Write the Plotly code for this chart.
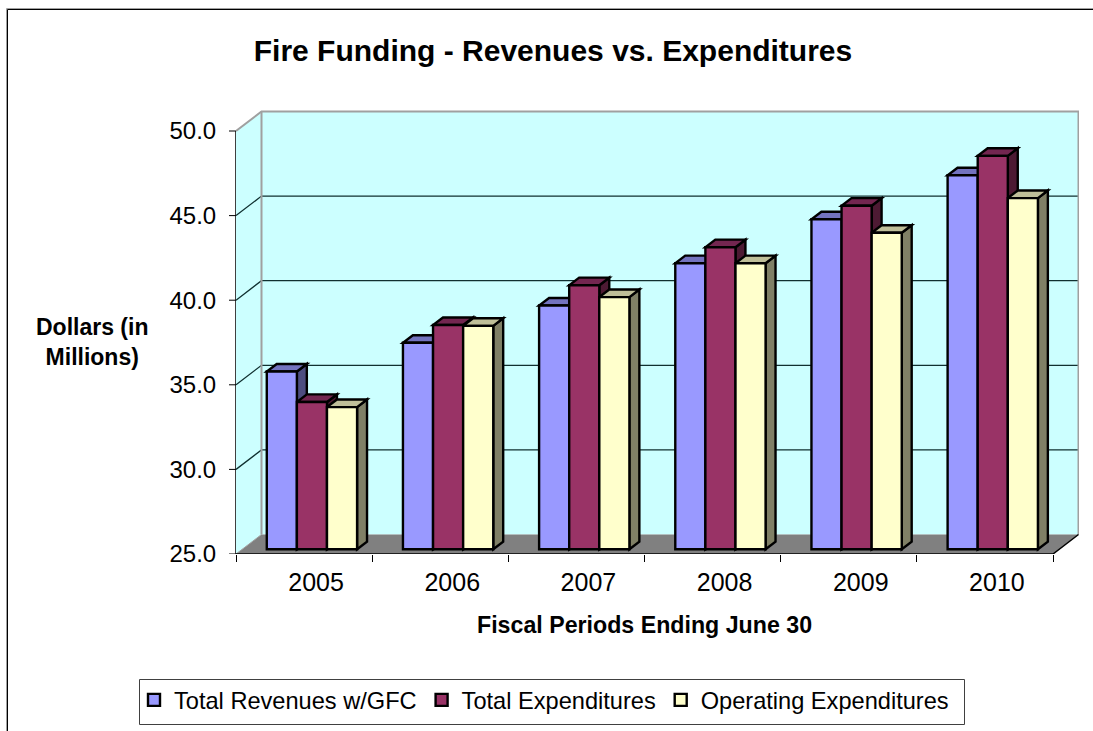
import plotly.graph_objects as go

# Fiscal years and funding series, in millions of dollars
years = ["2005", "2006", "2007", "2008", "2009", "2010"]
total_revenues = [35.5, 37.2, 39.4, 41.9, 44.5, 47.1]
total_expenditures = [33.7, 38.25, 40.6, 42.85, 45.3, 48.25]
operating_expenditures = [33.4, 38.2, 39.9, 41.9, 43.7, 45.75]

series = [
    ("Total Revenues w/GFC", total_revenues, "#9999FF", "#7373BF", "#4D4D80"),
    ("Total Expenditures", total_expenditures, "#993366", "#732650", "#4D1A33"),
    ("Operating Expenditures", operating_expenditures, "#FFFFCC", "#BFBF99", "#808066"),
]

W, H = 1093, 731
LEFT, RIGHT, TOP, BOTTOM = 236, 1079, 110, 554
FRONT_RIGHT = 1053
VALUE_TOP_PX = 131
Y_MIN, Y_MAX = 25.0, 50.0
Y_TICKS = [25, 30, 35, 40, 45, 50]

# Pixel scales of the front plane, used to size the oblique depth in data units
x_scale = (FRONT_RIGHT - LEFT) / len(years)
y_scale = (BOTTOM - VALUE_TOP_PX) / (Y_MAX - Y_MIN)
depth_x = 25.5 / x_scale
depth_y = 19.5 / y_scale

x_range = [0, (RIGHT - LEFT) / x_scale]
y_range = [Y_MIN, Y_MIN + (BOTTOM - TOP) / y_scale]

bar_width = 30.1 / x_scale
bar_front = 0.245      # depth of a bar's front face within the floor
bar_depth = 0.39       # depth of the bar itself
group_shift = 1.6 / x_scale
label_shift = 12 / x_scale  # year labels sit slightly right of the slot centre


def paper_x(px):
    return (px - LEFT) / (RIGHT - LEFT)


def paper_y(px):
    return (BOTTOM - px) / (BOTTOM - TOP)


def project(x, y, d):
    """Oblique projection: depth d (0 front, 1 back) moves right and up."""
    return x + d * depth_x, y + d * depth_y


def polygon(points, fill, line_color=None, line_width=2.4):
    parts = [project(*p) for p in points]
    path = "M" + "L".join(f"{x:.5f},{y:.5f}" for x, y in parts) + "Z"
    return dict(
        type="path", path=path, xref="x", yref="y", layer="below",
        fillcolor=fill,
        line=dict(color=line_color or fill, width=line_width if line_color else 0),
    )


def segment(points, color, width=1):
    parts = [project(*p) for p in points]
    path = "M" + "L".join(f"{x:.5f},{y:.5f}" for x, y in parts)
    return dict(type="path", path=path, xref="x", yref="y", layer="below",
                line=dict(color=color, width=width))


n = len(years)
shapes = []

# Walls and floor of the box
WALL = "#CCFFFF"
WALL_EDGE = "#A0A0A0"
shapes.append(polygon([(0, Y_MIN, 1), (n, Y_MIN, 1), (n, Y_MAX, 1), (0, Y_MAX, 1)], WALL))
shapes.append(polygon([(0, Y_MIN, 0), (0, Y_MIN, 1), (0, Y_MAX, 1), (0, Y_MAX, 0)], WALL))
shapes.append(polygon([(0, Y_MIN, 0), (n, Y_MIN, 0), (n, Y_MIN, 1), (0, Y_MIN, 1)], "#808080"))

# Gridlines run along the side wall and across the back wall
for tick in Y_TICKS[1:-1]:
    shapes.append(segment([(0, tick, 0), (0, tick, 1), (n, tick, 1)], "#103030", 1.3))

# Outline of the back wall and the top of the side wall
shapes.append(segment([(0, Y_MAX, 0), (0, Y_MAX, 1), (n, Y_MAX, 1), (n, Y_MIN, 1)], WALL_EDGE, 2))
shapes.append(segment([(0, Y_MIN, 1), (0, Y_MAX, 1)], WALL_EDGE, 2))
shapes.append(segment([(0, Y_MIN, 0), (0, Y_MIN, 1)], WALL_EDGE, 1))

# Axis lines on the front plane
shapes.append(dict(type="line", xref="paper", yref="y", layer="below",
                   x0=0, x1=0, y0=Y_MIN, y1=Y_MAX, line=dict(color="#000000", width=1.5)))
shapes.append(segment([(0, Y_MIN, 0), (n, Y_MIN, 0), (n, Y_MIN, 1)], "#000000", 1.5))

# Value tick marks just left of the front axis line
for tick in Y_TICKS:
    shapes.append(dict(type="line", xref="paper", yref="y", layer="below",
                       x0=paper_x(LEFT - 7), x1=0, y0=tick, y1=tick,
                       line=dict(color="#000000", width=1)))

fig = go.Figure()

# Each bar: side and top faces as oblique shapes, front face as a real bar
for s, (name, values, front, top, side) in enumerate(series):
    xs = [i + 0.5 + group_shift + (s - 1) * bar_width for i in range(n)]
    for x, v in zip(xs, values):
        x0, x1 = x - bar_width / 2, x + bar_width / 2
        d0, d1 = bar_front, bar_front + bar_depth
        shapes.append(polygon([(x1, Y_MIN, d0), (x1, Y_MIN, d1), (x1, v, d1), (x1, v, d0)], side, "#000000"))
        shapes.append(polygon([(x0, v, d0), (x1, v, d0), (x1, v, d1), (x0, v, d1)], top, "#000000"))
    base_value, shifted_x = project(0, Y_MIN, bar_front)[1], project(0, 0, bar_front)[0]
    fig.add_trace(go.Bar(
        name=name,
        x=[x + shifted_x for x in xs],
        y=[v - Y_MIN for v in values],
        base=base_value,
        width=bar_width,
        marker=dict(color=front, line=dict(color="#000000", width=2.4)),
    ))

# Chart frame (a thin grey edge outside a black line) and legend frame
shapes.append(dict(type="rect", xref="paper", yref="paper", layer="below",
                   x0=paper_x(6.5), x1=paper_x(1100), y0=paper_y(740), y1=paper_y(8.5),
                   line=dict(color="#A0A0A0", width=1)))
shapes.append(dict(type="rect", xref="paper", yref="paper", layer="below",
                   x0=paper_x(7.5), x1=paper_x(1100), y0=paper_y(740), y1=paper_y(9.5),
                   line=dict(color="#000000", width=1)))
shapes.append(dict(type="rect", xref="paper", yref="paper", layer="below",
                   x0=paper_x(139.5), x1=paper_x(964.5), y0=paper_y(724.5), y1=paper_y(679.5),
                   line=dict(color="#404040", width=1)))

FONT = "Liberation Sans, Arial, sans-serif"

fig.update_layout(
    width=W, height=H,
    margin=dict(l=LEFT, r=W - RIGHT, t=TOP, b=H - BOTTOM, pad=0, autoexpand=False),
    paper_bgcolor="#FFFFFF", plot_bgcolor="rgba(0,0,0,0)",
    barmode="overlay",
    font=dict(family=FONT, color="#000000", size=24),
    title=dict(text="<b>Fire Funding - Revenues vs. Expenditures</b>",
               font=dict(size=30), x=553 / W, xanchor="center",
               y=1 - 50 / H, yanchor="middle"),
    shapes=shapes,
    showlegend=True,
    legend=dict(orientation="h", x=paper_x(134), xanchor="left",
                y=paper_y(700), yanchor="middle",
                bgcolor="rgba(0,0,0,0)", borderwidth=0,
                font=dict(size=23.6), traceorder="normal"),
    xaxis=dict(range=x_range, showgrid=False, zeroline=False, showline=False,
               tickmode="array", tickvals=[i + 0.5 + label_shift for i in range(n)], ticktext=years,
               ticks="outside", ticklen=6, tickcolor="rgba(0,0,0,0)", tickfont=dict(size=25),
               minor=dict(tickmode="array", tickvals=list(range(n + 1)), ticks="outside",
                          ticklen=7, tickwidth=1, tickcolor="#000000")),
    yaxis=dict(range=y_range, showgrid=False, zeroline=False, showline=False,
               tickmode="array", tickvals=Y_TICKS, ticktext=[f"{t:.1f}" for t in Y_TICKS],
               ticks="outside", ticklen=14, tickcolor="rgba(0,0,0,0)", tickfont=dict(size=24)),
    annotations=[
        dict(text="<b>Dollars (in<br>Millions)</b>", xref="paper", yref="paper",
             x=paper_x(92), y=paper_y(341.5),
             xanchor="center", yanchor="middle", showarrow=False, font=dict(size=23)),
        dict(text="<b>Fiscal Periods Ending June 30</b>", xref="paper", yref="paper",
             x=paper_x(644), y=paper_y(625),
             xanchor="center", yanchor="middle", showarrow=False, font=dict(size=23.2)),
    ],
)

fig.write_html("out.html")
